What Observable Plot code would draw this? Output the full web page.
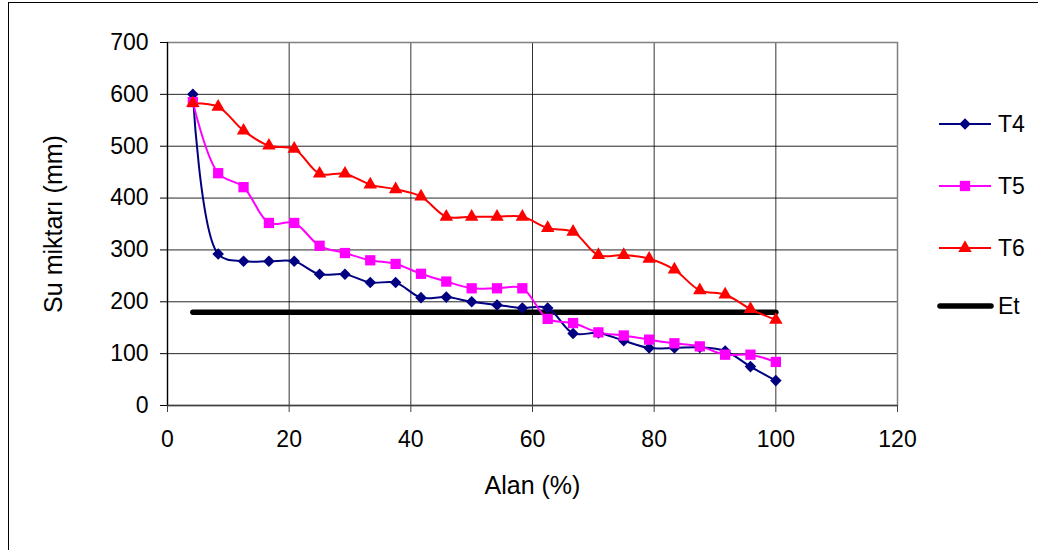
<!DOCTYPE html>
<html><head><meta charset="utf-8">
<script src="https://cdn.jsdelivr.net/npm/d3@7"></script>
<script src="https://cdn.jsdelivr.net/npm/@observablehq/plot@0.6"></script>
<style>
html,body{margin:0;padding:0;}
body{width:1038px;height:550px;overflow:hidden;background:#fff;font-family:"Liberation Sans",Arial,sans-serif;position:relative;}
#frame{position:absolute;left:8px;top:2px;width:1100px;height:600px;border-left:1.5px solid #000;border-top:1.5px solid #000;box-sizing:border-box;}
#chart{position:absolute;left:0;top:0;}
#legend{position:absolute;left:936px;top:0;width:100px;height:550px;}
.item{position:absolute;left:0;display:flex;align-items:center;height:24px;font-size:23px;color:#000;}
.item svg{display:block;margin-right:4px;}
</style></head><body>
<div id="frame"></div><div id="chart"></div><div id="legend"></div>
<script>
// Data
const alan = [4.17, 8.33, 12.5, 16.67, 20.83, 25, 29.17, 33.33, 37.5, 41.67, 45.83, 50, 54.17, 58.33, 62.5, 66.67, 70.83, 75, 79.17, 83.33, 87.5, 91.67, 95.83, 100];
const T4 = [600, 292, 278, 278, 278, 253, 253, 237, 237, 208, 209, 200, 194, 188, 188, 139, 140, 125, 111, 111, 112, 105, 75, 48];
const T5 = [585, 448, 421, 352, 352, 308, 294, 280, 273, 254, 239, 226, 226, 226, 167, 159, 141, 135, 127, 120, 114, 98, 98, 84];
const T6 = [583, 576, 530, 501, 495, 447, 447, 426, 417, 403, 364, 364, 364, 364, 342, 335, 290, 290, 283, 262, 222, 214, 186, 165];
const etAlan = [4.17, 100];
const Et = [180, 180];
const xTicks = [0, 20, 40, 60, 80, 100, 120];
const yTicks = [0, 100, 200, 300, 400, 500, 600, 700];
const seriesNames = ["T4", "T5", "T6", "Et"];
const seriesColors = ["#000080", "#FF00FF", "#FF0000", "#000000"];
const seriesSymbols = ["diamond2", "square", "triangle", null];
const seriesR = [5.2, 5.8, 5.0, 0];

const font = '"Liberation Sans", Arial, sans-serif';
const tSeries = [T4, T5, T6];
const rows = tSeries.map((vals, k) => vals.map((v, i) => ({x: alan[i], y: v, s: seriesNames[k]})));
const etRows = etAlan.map((x, i) => ({x, y: Et[i]}));

const marks = [
  Plot.gridX(xTicks, {stroke: "#000", strokeOpacity: 0.8, strokeWidth: 1}),
  Plot.gridY(yTicks, {stroke: "#000", strokeOpacity: 0.85, strokeWidth: 1}),
  Plot.frame({stroke: "#808080", strokeWidth: 1.5}),
  Plot.ruleX([0], {stroke: "#000", strokeWidth: 1.2}),
  Plot.ruleY([0], {stroke: "#404040", strokeWidth: 1.5}),
  Plot.axisX(xTicks, {tickSize: 7, tickPadding: 18, fontSize: 23, stroke: "#404040", label: null}),
  Plot.axisX({label: "Alan (%)", ticks: [], tickSize: 0, fontSize: 25, labelAnchor: "center", labelArrow: "none", labelOffset: 88}),
  Plot.axisY(yTicks, {tickSize: 7, tickPadding: 12, fontSize: 23, label: null}),
  Plot.axisY({label: "Su miktarı (mm)", ticks: [], tickSize: 0, fontSize: 25, labelAnchor: "center", labelArrow: "none", labelOffset: 123}),
  Plot.line(etRows, {x: "x", y: "y", stroke: seriesColors[3], strokeWidth: 5.5, strokeLinecap: "round"})
];
tSeries.forEach((vals, k) => {
  marks.push(Plot.line(rows[k], {x: "x", y: "y", stroke: seriesColors[k], strokeWidth: 2, curve: "catmull-rom"}));
});
tSeries.forEach((vals, k) => {
  marks.push(Plot.dot(rows[k], {x: "x", y: "y", symbol: () => seriesSymbols[k], fill: seriesColors[k], stroke: "none", r: seriesR[k]}));
});

const chart = Plot.plot({
  width: 1038, height: 550,
  marginLeft: 167, marginRight: 141, marginTop: 42, marginBottom: 145,
  style: {fontFamily: font, fontSize: "23px", background: "transparent", color: "#000", overflow: "visible"},
  x: {domain: [0, 120]},
  y: {domain: [0, 700]},
  symbol: {domain: ["diamond2", "square", "triangle"], range: ["diamond2", "square", "triangle"]},
  marks
});
document.getElementById("chart").appendChild(chart);

// Legend
const legend = document.getElementById("legend");
const tops = [112, 174, 236, 294];
seriesNames.forEach((name, k) => {
  const div = document.createElement("div");
  div.className = "item";
  div.style.top = tops[k] + "px";
  const w = 58, h = 24;
  const svg = d3.create("svg").attr("width", w).attr("height", h);
  if (seriesSymbols[k]) {
    svg.append("line").attr("x1", 3).attr("x2", 55).attr("y1", h/2).attr("y2", h/2).attr("stroke", seriesColors[k]).attr("stroke-width", 2);
    const symMap = {diamond2: d3.symbolDiamond2, square: d3.symbolSquare, triangle: d3.symbolTriangle};
    svg.append("path").attr("transform", `translate(29,${h/2})`)
      .attr("d", d3.symbol(symMap[seriesSymbols[k]], Math.PI * seriesR[k] * seriesR[k])())
      .attr("fill", seriesColors[k]);
  } else {
    svg.append("line").attr("x1", 4).attr("x2", 55).attr("y1", h/2).attr("y2", h/2).attr("stroke", seriesColors[k]).attr("stroke-width", 5.5).attr("stroke-linecap", "round");
  }
  div.appendChild(svg.node());
  const span = document.createElement("span");
  span.textContent = name;
  div.appendChild(span);
  legend.appendChild(div);
});
</script>
</body></html>
